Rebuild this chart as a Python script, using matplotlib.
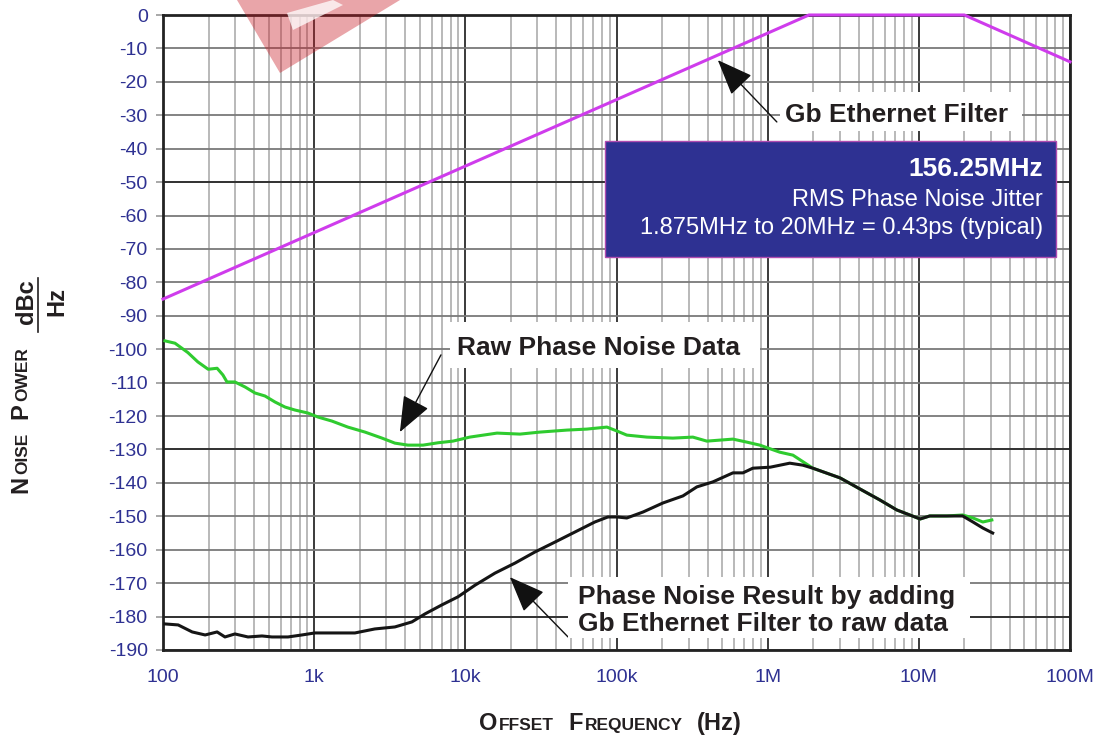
import numpy as np
import matplotlib
matplotlib.use('Agg')
import matplotlib.pyplot as plt
from matplotlib.patches import Rectangle, Polygon
from matplotlib.lines import Line2D
from matplotlib.ticker import LogLocator, NullFormatter

plt.rcParams['font.family'] = ['Liberation Sans', 'DejaVu Sans']

#  Gb Ethernet filter mask (dB)
filter_freq = [100, 1.875e6, 2.0e7, 1.0e8]
filter_db = [-85, 0, 0, -14]

#  Raw phase noise data (dBc/Hz)
raw_freq = [103, 120, 146, 170, 199, 228, 249, 265, 299, 349, 406, 473, 551, 641, 746,
            910, 1.06e3, 1.31e3, 1.67e3, 2.17e3, 2.81e3, 3.42e3, 4.17e3, 5.25e3, 6.59e3,
            8.28e3, 1.07e4, 1.62e4, 2.30e4, 3.11e4, 4.70e4, 6.37e4, 8.64e4, 1.01e5, 1.17e5,
            1.59e5, 2.36e5, 3.20e5, 3.96e5, 5.89e5, 7.28e5, 8.87e5, 1.20e6, 1.47e6, 1.99e6,
            3.01e6, 4.07e6, 5.52e6, 7.15e6, 8.71e6, 1.02e7, 1.18e7, 1.53e7, 1.95e7, 2.28e7,
            2.65e7, 3.04e7]
raw_db = [-97.5, -98.2, -101, -103.8, -106, -105.7, -107.7, -109.8, -109.8, -111.3,
          -113.1, -114, -115.8, -117.3, -118.2, -119.1, -120.3, -121.5, -123.3, -124.8,
          -126.6, -128.1, -128.7, -128.7, -128, -127.5, -126.3, -125.1, -125.4, -124.8,
          -124.2, -123.9, -123.3, -124.5, -125.7, -126.3, -126.6, -126.3, -127.5, -126.9,
          -127.8, -128.7, -130.8, -131.7, -135.6, -138.5, -141.8, -145.1, -148.1, -149.6,
          -150.8, -149.9, -149.9, -149.6, -150.5, -151.7, -151.1]

#  Phase noise with filter applied (dBc/Hz)
res_freq = [103, 126, 156, 190, 228, 257, 299, 365, 452, 526, 671, 830, 1.01e3, 1.37e3,
            1.86e3, 2.52e3, 3.42e3, 4.43e3, 5.41e3, 7.00e3, 8.93e3, 1.16e4, 1.57e4, 2.13e4,
            2.88e4, 3.92e4, 5.31e4, 7.19e4, 8.77e4, 1.01e5, 1.17e5, 1.50e5, 2.03e5, 2.75e5,
            3.40e5, 4.34e5, 5.89e5, 6.86e5, 7.98e5, 1.04e6, 1.40e6, 1.71e6, 1.99e6, 3.01e6,
            4.07e6, 5.52e6, 7.15e6, 8.71e6, 1.02e7, 1.18e7, 1.53e7, 1.95e7, 2.28e7, 2.65e7,
            3.08e7]
res_db = [-182.2, -182.5, -184.6, -185.5, -184.6, -186.1, -185.2, -186.1, -185.8, -186.1,
          -186.1, -185.5, -184.9, -184.9, -184.9, -183.7, -183.1, -181.6, -179.2, -176.5,
          -174.1, -170.6, -167, -164, -160.7, -157.7, -154.7, -151.7, -150.2, -150.2,
          -150.5, -148.7, -146, -143.9, -141.2, -139.7, -137, -137, -135.6, -135.3,
          -134.1, -134.7, -135.6, -138.5, -141.8, -145.1, -148.1, -149.6, -150.8, -149.9,
          -149.9, -149.9, -151.7, -153.5, -155]

xtick_vals = [1e2, 1e3, 1e4, 1e5, 1e6, 1e7, 1e8]
xtick_labels = ['100', '1k', '10k', '100k', '1M', '10M', '100M']
ytick_vals = list(range(0, -200, -10))
dark_rows = [-50, -130, -180]

NAVY = '#2E3192'
INK = '#231F20'
W, H = 1096, 737


def px(x, y):
    #  pixel position (from top left) to figure fraction
    return (x / W, 1 - y / H)


fig = plt.figure(figsize=(W / 100, H / 100), dpi=100)
ax = fig.add_axes([163 / W, 1 - 650 / H, (1070 - 163) / W, (650 - 15) / H])

ax.plot(filter_freq, filter_db, color='#CF3CEC', lw=2.2, zorder=5, clip_on=False)
ax.plot(raw_freq, raw_db, color='#2FCB2F', lw=2.2, zorder=4)
ax.plot(res_freq, res_db, color='#151515', lw=2.2, zorder=4)

ax.set_xscale('log')
ax.set_xlim(100, 1e8)
ax.set_ylim(-190, 0)
ax.set_xticks(xtick_vals)
ax.set_xticklabels(xtick_labels)
ax.xaxis.set_minor_locator(LogLocator(base=10, subs=np.arange(2, 10)))
ax.xaxis.set_minor_formatter(NullFormatter())
ax.set_yticks(ytick_vals)
ax.set_yticklabels([str(v) for v in ytick_vals])
ax.tick_params(axis='x', which='both', length=0, pad=14, labelsize=14, labelcolor=NAVY)
ax.tick_params(axis='y', length=5, width=1.2, color='#999999', pad=6, labelsize=14, labelcolor=NAVY)

ax.set_axisbelow(True)
ax.grid(which='major', axis='x', color='#3A3A3A', lw=1.4)
ax.grid(which='minor', axis='x', color='#A6A6A6', lw=1.1)
ax.grid(which='major', axis='y', color='#7A7A7A', lw=1.3)
for v in dark_rows:
    ax.axhline(v, color='#333333', lw=1.4, zorder=1)
for s in ax.spines.values():
    s.set_linewidth(2)
    s.set_color('#222222')

#  arrows pointing at the curves
arrow = dict(arrowstyle='-|>,head_length=1.13,head_width=0.45', mutation_scale=20,
             color='#111111', lw=1.0, shrinkA=0, shrinkB=0)
ax.annotate('', xy=(4.68e5, -13.5), xytext=(1.15e6, -32.0), arrowprops=arrow, zorder=6)
ax.annotate('', xy=(3.69e3, -124.8), xytext=(6.9e3, -101.7), arrowprops=arrow, zorder=6)
ax.annotate('', xy=(1.97e4, -168.2), xytext=(4.78e4, -186.1), arrowprops=arrow, zorder=6)


def box(x0, y0, x1, y1, **kw):
    r = Rectangle(px(x0, y1), (x1 - x0) / W, (y1 - y0) / H, transform=fig.transFigure, **kw)
    fig.add_artist(r)


#  white label boxes
box(780, 92, 1022, 131, facecolor='white', edgecolor='none', zorder=2)
box(450, 322, 760, 368, facecolor='white', edgecolor='none', zorder=2)
box(568, 577, 970, 638, facecolor='white', edgecolor='none', zorder=2)

fig.text(*px(785, 122), 'Gb Ethernet Filter', fontsize=19, fontweight='bold', color=INK,
         ha='left', va='baseline', zorder=3)
fig.text(*px(457, 355), 'Raw Phase Noise Data', fontsize=19, fontweight='bold', color=INK,
         ha='left', va='baseline', zorder=3)
fig.text(*px(578, 604), 'Phase Noise Result by adding', fontsize=19, fontweight='bold',
         color=INK, ha='left', va='baseline', zorder=3)
fig.text(*px(578, 631), 'Gb Ethernet Filter to raw data', fontsize=19, fontweight='bold',
         color=INK, ha='left', va='baseline', zorder=3)

#  jitter box
box(605, 141, 1056, 257, facecolor=NAVY, edgecolor='#B04CB0', lw=1.0, zorder=2)
fig.text(*px(1043, 176), '156.25MHz', fontsize=19, fontweight='bold', color='white',
         ha='right', va='baseline', zorder=3)
fig.text(*px(1043, 206), 'RMS Phase Noise Jitter', fontsize=17, color='white',
         ha='right', va='baseline', zorder=3)
fig.text(*px(1043, 234), '1.875MHz to 20MHz = 0.43ps (typical)', fontsize=17, color='white',
         ha='right', va='baseline', zorder=3)

#  faded logo in the top corner
fig.add_artist(Polygon([px(237, 0), px(280, 73), px(400, 0)], closed=True,
                       transform=fig.transFigure, facecolor='#C81E28', alpha=0.4,
                       edgecolor='none', zorder=7))
fig.add_artist(Polygon([px(293, 30), px(287, 13), px(333, 0), px(343, 5)], closed=True,
                       transform=fig.transFigure, facecolor='white', alpha=0.75,
                       edgecolor='none', zorder=8))

#  small caps axis labels
renderer = fig.canvas.get_renderer()


def small_caps(words, big, small, rotation=0):
    pieces = []
    for i, w in enumerate(words):
        if w[0].isalpha():
            parts = [(w[0], big), (w[1:].upper(), small)]
        else:
            parts = [(w, big)]
        for j, (s, size) in enumerate(parts):
            t = fig.text(0, 0, s, fontsize=size, fontweight='bold', color=INK,
                         rotation=rotation, rotation_mode='anchor', ha='left', va='baseline')
            bb = t.get_window_extent(renderer)
            step = bb.height if rotation else bb.width
            gap = 2 if j < len(parts) - 1 else 14
            pieces.append([t, step, gap])
    pieces[-1][2] = 0
    return pieces


xl = small_caps(['Offset', 'Frequency', '(Hz)'], 17, 12.5)
total = sum(p[1] + p[2] for p in xl)
cx = 610 - total / 2
for t, step, gap in xl:
    t.set_position(px(cx, 730))
    cx += step + gap

yl = small_caps(['Noise', 'Power'], 17, 12.5, rotation=90)
cy = 493
for t, step, gap in yl:
    t.set_position(px(27, cy))
    cy -= step + gap

fig.text(*px(33, 302), 'dBc', fontsize=17, fontweight='bold', color=INK, rotation=90,
         rotation_mode='anchor', ha='center', va='baseline')
fig.text(*px(63, 302), 'Hz', fontsize=17, fontweight='bold', color=INK, rotation=90,
         rotation_mode='anchor', ha='center', va='baseline')
fig.add_artist(Line2D([38 / W, 38 / W], [1 - 332 / H, 1 - 278 / H], color=INK, lw=1.2,
                      transform=fig.transFigure))

fig.savefig('out.png', dpi=100, facecolor='white')
